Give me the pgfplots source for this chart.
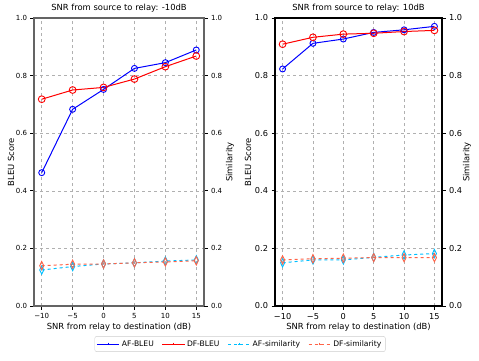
\documentclass[border=0pt]{standalone}
\usepackage{pgfplots}
\pgfplotsset{compat=1.18}
\usepackage{fontspec}
\setmainfont{DejaVu Sans}
\definecolor{dsb}{RGB}{0,191,255}
\definecolor{tomato}{RGB}{255,99,71}
\definecolor{gridc}{RGB}{176,176,176}
\definecolor{spinel}{RGB}{100,100,100}

\pgfplotstableread{
x    afb    dfb    afs    dfs
-10  0.463  0.718  0.125  0.140
-5   0.683  0.750  0.137  0.145
0    0.752  0.759  0.146  0.146
5    0.825  0.788  0.150  0.150
10   0.845  0.831  0.156  0.153
15   0.889  0.868  0.160  0.157
}\lefttab
\pgfplotstableread{
x    afb    dfb    afs    dfs
-10  0.823  0.909  0.150  0.160
-5   0.912  0.933  0.160  0.164
0    0.927  0.944  0.160  0.166
5    0.950  0.947  0.169  0.168
10   0.959  0.953  0.177  0.168
15   0.971  0.957  0.182  0.168
}\righttab

\pgfplotsset{
  base/.style={
    scale only axis, height=288pt,
    xmin=-11.25, xmax=16.25, ymin=0, ymax=1,
    xtick={-10,-5,0,5,10,15},
    xticklabels={−10,−5,0,5,10,15},
    ytick={0,0.2,0.4,0.6,0.8,1.0},
    yticklabels={0.0,0.2,0.4,0.6,0.8,1.0},
    tick align=outside, major tick length=3.5pt,
    tick style={black, line width=0.7pt},
    label style={font=\fontsize{8.4}{10}\selectfont},
    title style={font=\fontsize{8.4}{10}\selectfont, at={(axis description cs:0.5,1)}, anchor=center, yshift=4pt},
  },
  mainax/.style={base,
    xtick pos=bottom, ytick pos=left,
    grid=major, major grid style={gridc, dashed, line width=0.6pt},
    xlabel={SNR from relay to destination (dB)},
    ylabel={BLEU Score},
    xlabel style={at={(axis description cs:0.5,-0.073)}, anchor=center},
  },
  twinax/.style={base,
    axis x line=none, axis y line*=right,
    ylabel={Similarity},
  },
  afb/.style={blue, line width=1pt, mark=o, mark size=3pt, mark options={solid, line width=0.9pt}},
  dfb/.style={red, line width=1pt, mark=o, mark size=3.4pt, mark options={solid, line width=0.9pt}},
  afs/.style={dsb, line width=1pt, dashed, mark=diamond, mark size=4.2pt, mark options={solid, line width=0.9pt, xscale=0.65}},
  dfs/.style={tomato, line width=1pt, dashed, mark=diamond, mark size=4.2pt, mark options={solid, line width=0.9pt, xscale=0.65}},
}

\begin{document}
\begin{tikzpicture}
\path[use as bounding box] (0pt,0pt) rectangle (479pt,360pt);

% ---------- left panel ----------
\begin{axis}[mainax, at={(34pt,54pt)}, anchor=south west, width=170pt,
  title={SNR from source to relay: -10dB},
  ticklabel style={font=\fontsize{7}{8}\selectfont},
  axis line style={spinel, line width=1.6pt},
  ylabel style={at={(axis description cs:-0.135,0.5)}, anchor=center},
  legend style={at={(axis description cs:1.212,-0.132)}, anchor=center,
    legend columns=4, draw=gray!40, rounded corners=2pt,
    font=\fontsize{7.6}{9}\selectfont, inner sep=2pt,
    /tikz/every even column/.append style={column sep=6pt}},
  legend image post style={mark size=1.4pt, mark=+, xscale=1.3},
]
\addplot[afb] table[x=x,y=afb]{\lefttab};
\addplot[dfb] table[x=x,y=dfb]{\lefttab};
\addplot[afs] table[x=x,y=afs]{\lefttab};
\addplot[dfs] table[x=x,y=dfs]{\lefttab};
\legend{AF-BLEU, DF-BLEU, AF-similarity, DF-similarity}
\end{axis}
\begin{axis}[twinax, at={(34pt,54pt)}, anchor=south west, width=170pt,
  ticklabel style={font=\fontsize{7}{8}\selectfont},
  axis line style={spinel, line width=1.6pt},
  ylabel style={at={(axis description cs:1.153,0.5)}, anchor=center},
]
\end{axis}

% ---------- right panel ----------
\begin{axis}[mainax, at={(275pt,54pt)}, anchor=south west, width=167pt,
  title={SNR from source to relay: 10dB},
  ticklabel style={font=\fontsize{8.2}{9.5}\selectfont},
  axis line style={black, line width=1.1pt},
  ylabel style={at={(axis description cs:-0.162,0.5)}, anchor=center},
]
\addplot[afb] table[x=x,y=afb]{\righttab};
\addplot[dfb] table[x=x,y=dfb]{\righttab};
\addplot[afs] table[x=x,y=afs]{\righttab};
\addplot[dfs] table[x=x,y=dfs]{\righttab};
\end{axis}
\begin{axis}[twinax, at={(275pt,54pt)}, anchor=south west, width=167pt,
  ticklabel style={font=\fontsize{8.2}{9.5}\selectfont},
  axis line style={black, line width=1.1pt},
  ylabel style={at={(axis description cs:1.15,0.5)}, anchor=center},
]
\end{axis}
\end{tikzpicture}
\end{document}
